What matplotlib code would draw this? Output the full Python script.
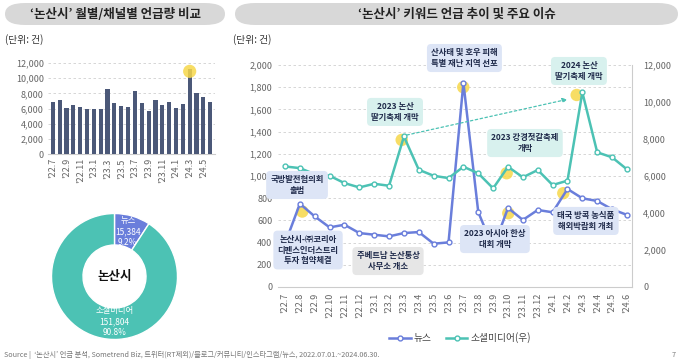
import matplotlib.pyplot as plt
from matplotlib.patches import FancyBboxPatch
from matplotlib.lines import Line2D

plt.rcParams['font.family'] = ['Noto Sans CJK KR', 'DejaVu Sans']

# Data
months = ["'22.7", "'22.8", "'22.9", "'22.10", "'22.11", "'22.12",
          "'23.1", "'23.2", "'23.3", "'23.4", "'23.5", "'23.6",
          "'23.7", "'23.8", "'23.9", "'23.10", "'23.11", "'23.12",
          "'24.1", "'24.2", "'24.3", "'24.4", "'24.5", "'24.6"]
total = [6835, 7144, 6130, 6483, 6174, 5909, 5953, 5909, 8555, 6747, 6394, 6218,
         8246, 6747, 5733, 7144, 6483, 6923, 6130, 6571, 11201, 7982, 7453, 6835]
news = [390, 750, 636, 537, 561, 486, 471, 456, 486, 495, 390, 402,
        1840, 675, 350, 712, 604, 694, 673, 883, 799, 775, 700, 650]
social = [6516, 6426, 6100, 6012, 5616, 5382, 5580, 5472, 8136, 6336, 6012, 5886,
          6502, 6144, 5333, 6502, 5928, 6324, 5513, 5747, 10522, 7280, 7010, 6360]
donut_labels = ['뉴스', '소셜미디어']
donut_values = [15384, 151804]
donut_pct = ['9.2%', '90.8%']

c_news = '#6a7edb'
c_social = '#4cc2b4'
c_bar = '#4b5878'
c_yellow = '#f6d74a'
c_tick = '#666666'

fig = plt.figure(figsize=(6.8, 3.63), dpi=100)

# title pills
def pill(x0, x1, text):
    fig.patches.append(FancyBboxPatch((x0 / 680, 1 - 25 / 363), (x1 - x0) / 680, 22 / 363,
                                      boxstyle='round,pad=0,rounding_size=0.03',
                                      transform=fig.transFigure, fc='#d8d8d8', ec='none'))
    fig.text((x0 + x1) / 2 / 680, 1 - 14 / 363, text, ha='center', va='center',
             fontsize=9, fontweight='bold', color='#222222')

pill(5, 225, '‘논산시’ 월별/채널별 언급량 비교')
pill(235, 678, '‘논산시’ 키워드 언급 추이 및 주요 이슈')
fig.text(5 / 680, 1 - 40 / 363, '(단위: 건)', fontsize=7, color='#333333', va='center')
fig.text(233 / 680, 1 - 40 / 363, '(단위: 건)', fontsize=7, color='#333333', va='center')

# bar chart
axb = fig.add_axes([48 / 680, 1 - 154 / 363, 167 / 680, 91 / 363])
xs = list(range(len(months)))
axb.bar(xs, total, width=0.6, color=c_bar, zorder=3)
axb.scatter([20], [10900], s=90, color=c_yellow, alpha=0.85, zorder=4, edgecolors='none')
axb.set_ylim(0, 12000)
axb.set_xlim(-0.7, 23.7)
axb.set_yticks(range(0, 12001, 2000))
axb.set_yticklabels([f'{v:,}' for v in range(0, 12001, 2000)])
axb.set_xticks(xs[::2])
axb.set_xticklabels(months[::2], rotation=90)
axb.tick_params(length=0, labelsize=6.5, colors=c_tick, pad=3)
axb.yaxis.grid(True, ls=(0, (3, 3)), color='#d0d0d0', lw=0.6)
for s in axb.spines.values():
    s.set_visible(False)
axb.spines['bottom'].set_visible(True)
axb.spines['bottom'].set_color('#cccccc')

# donut
axd = fig.add_axes([51.5 / 680, 1 - 339.5 / 363, 126 / 680, 126 / 363])
axd.pie(donut_values, colors=[c_news, c_social], startangle=90, counterclock=False,
        wedgeprops=dict(width=0.5, edgecolor='white', linewidth=1))
axd.set_xlim(-1, 1)
axd.set_ylim(-1, 1)
axd.text(0, 0, '논산시', ha='center', va='center', fontsize=9, fontweight='bold', color='#111111')
axd.text(0.21, 0.71, f'{donut_labels[0]}\n{donut_values[0]:,}\n{donut_pct[0]}', ha='center',
         va='center', fontsize=6, color='white', linespacing=1.3)
axd.text(0, -0.72, f'{donut_labels[1]}\n{donut_values[1]:,}\n{donut_pct[1]}', ha='center',
         va='center', fontsize=6, color='white', linespacing=1.3)

# line chart
ax = fig.add_axes([278 / 680, 1 - 287 / 363, 354 / 680, 222 / 363])
ax2 = ax.twinx()
ax.set_xlim(-0.47, 23.34)
ax.set_ylim(0, 2000)
ax2.set_ylim(0, 12000)
ax.plot(xs, news, color=c_news, lw=1.8, marker='o', ms=3.5, mfc='white', mec=c_news, mew=1, zorder=3)
ax2.plot(xs, social, color=c_social, lw=1.8, marker='o', ms=3.5, mfc='white', mec=c_social, mew=1, zorder=3)
# highlights
ax.scatter([1.16, 11.99, 15.02, 18.72], [680, 1800, 665, 845], s=80, color=c_yellow, alpha=0.85,
           zorder=2, edgecolors='none')
ax2.scatter([7.85, 14.91, 19.62], [7950, 6150, 10380], s=80, color=c_yellow, alpha=0.85,
            zorder=2, edgecolors='none')
ax2.annotate('', xy=(19.0, 10145), xytext=(8.2, 8216),
             arrowprops=dict(arrowstyle='-|>', color=c_social, ls=(0, (2, 2)), lw=0.9,
                             mutation_scale=7, shrinkA=0, shrinkB=0), zorder=2)

ax.set_yticks(range(0, 2001, 200))
ax.set_yticklabels([f'{v:,}' for v in range(0, 2001, 200)])
ax2.set_yticks(range(0, 12001, 2000))
ax2.set_yticklabels([f'{v:,}' for v in range(0, 12001, 2000)])
ax.set_xticks(xs)
ax.set_xticklabels(months, rotation=90)
ax.tick_params(length=0, labelsize=6.5, colors=c_tick, pad=4)
ax2.tick_params(length=0, labelsize=6.5, colors=c_tick, pad=8)
ax.yaxis.grid(True, ls=(0, (3, 3)), color='#d0d0d0', lw=0.6)
for a in (ax, ax2):
    for s in a.spines.values():
        s.set_visible(False)
ax2.spines['right'].set_visible(True)
ax2.spines['right'].set_color('#cccccc')
ax.spines['bottom'].set_visible(True)
ax.spines['bottom'].set_color('#cccccc')

# issue boxes (in news-axis data units)
blue_box = '#dde5f6'
teal_box = '#d8f1ee'
gray_box = '#e6e6e6'
issues = [
    (12.07, 2063, '산사태 및 호우 피해\n특별 재난 지역 선포', blue_box),
    (19.77, 1946, '2024 논산\n딸기축제 개막', teal_box),
    (7.40, 1577, '2023 논산\n딸기축제 개막', teal_box),
    (16.14, 1297, '2023 강경젓갈축제\n개막', teal_box),
    (0.81, 919, '국방발전협의회\n출범', blue_box),
    (1.55, 333, '논산시-㈜코리아\n디펜스인더스트리\n투자 협약체결', blue_box),
    (6.93, 234, '주베트남 논산통상\n사무소 개소', gray_box),
    (14.12, 432, '2023 아시아 한상\n대회 개막', blue_box),
    (20.24, 595, '태국 방콕 농식품\n해외박람회 개최', blue_box),
]
for x, y, txt, fc in issues:
    ax2.text(x, y, txt, transform=ax.transData, ha='center', va='center', fontsize=6,
             fontweight='bold', color='#1f2a4a', linespacing=1.25, zorder=6, clip_on=False,
             bbox=dict(boxstyle='round,pad=0.5,rounding_size=0.5', fc=fc, ec='none'))

handles = [Line2D([], [], color=c_news, lw=1.8, marker='o', ms=3.5, mfc='white', mec=c_news),
           Line2D([], [], color=c_social, lw=1.8, marker='o', ms=3.5, mfc='white', mec=c_social)]
fig.legend(handles, ['뉴스', '소셜미디어(우)'], loc='center', bbox_to_anchor=(460 / 680, 1 - 338 / 363),
           ncol=2, frameon=False, fontsize=7, handlelength=2.2, columnspacing=1.5,
           labelcolor='#444444', handletextpad=0.3)

fig.text(4 / 680, 1 - 355 / 363,
         'Source |  ‘논산시’ 언급 분석, Sometrend Biz, 트위터(RT제외)/블로그/커뮤니티/인스타그램/뉴스, 2022.07.01.~2024.06.30.',
         fontsize=5.2, color='#777777', va='center')
fig.text(676 / 680, 1 - 355 / 363, '7', fontsize=5.2, color='#777777', va='center', ha='right')

fig.savefig('out.png', dpi=100)
